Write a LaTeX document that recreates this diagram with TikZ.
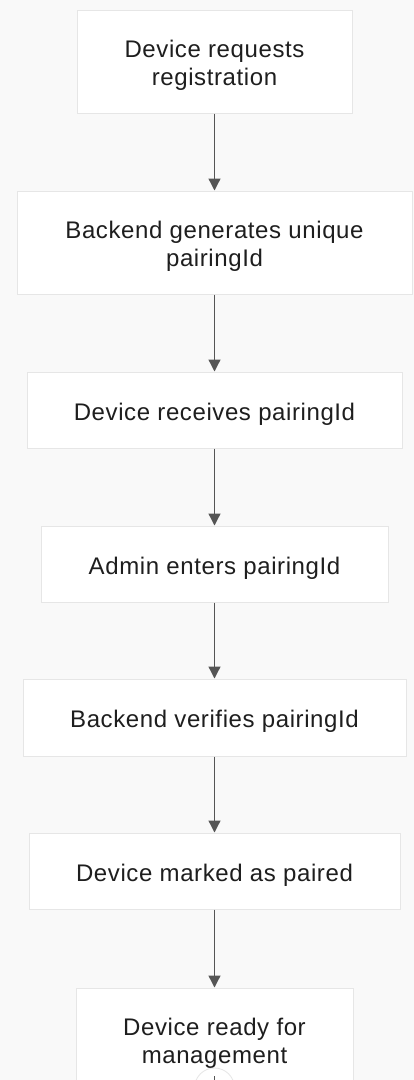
\documentclass[tikz,border=0pt]{standalone}
\usepackage{fontspec}
\setmainfont{Liberation Sans}[LetterSpace=2.5]
\usetikzlibrary{arrows.meta}
\definecolor{bgc}{HTML}{F9F9F9}
\definecolor{boxline}{HTML}{E6E6E6}
\definecolor{arrowc}{HTML}{555555}
\definecolor{txt}{HTML}{1E1E1E}
\tikzset{
  stepbox/.style={draw=boxline, line width=1pt, fill=white, rectangle, inner sep=0pt},
  lbl/.style={inner sep=0pt, align=center, text=txt, yshift=-4pt, font=\fontsize{24}{28}\selectfont},
  flow/.style={draw=arrowc, line width=1.3pt, -{Triangle[length=12pt,width=12pt]}},
}
\begin{document}
\begin{tikzpicture}[x=1pt,y=-1pt]
\useasboundingbox (0,0) rectangle (414,1080);
\clip (0,0) rectangle (414,1080);
\fill[bgc] (0,0) rectangle (414,1080);
\node[stepbox, minimum width=275pt, minimum height=103pt, label={[lbl]center:{Device requests\\registration}}] (n1) at (214.5,61.5) {};
\node[stepbox, minimum width=395pt, minimum height=103pt, label={[lbl]center:{Backend generates unique\\pairingId}}] (n2) at (214.5,242.5) {};
\node[stepbox, minimum width=375pt, minimum height=76pt, label={[lbl]center:{Device receives pairingId}}] (n3) at (214.5,410) {};
\node[stepbox, minimum width=347pt, minimum height=76pt, label={[lbl]center:{Admin enters pairingId}}] (n4) at (214.5,564) {};
\node[stepbox, minimum width=383pt, minimum height=77pt, label={[lbl]center:{Backend verifies pairingId}}] (n5) at (214.5,717.5) {};
\node[stepbox, minimum width=371pt, minimum height=76pt, label={[lbl]center:{Device marked as paired}}] (n6) at (214.5,871) {};
\node[stepbox, minimum width=277pt, minimum height=103pt, label={[lbl]center:{Device ready for\\management}}] (n7) at (214.5,1039.5) {};
\draw[flow] (n1.south) -- (n2.north);
\draw[flow] (n2.south) -- (n3.north);
\draw[flow] (n3.south) -- (n4.north);
\draw[flow] (n4.south) -- (n5.north);
\draw[flow] (n5.south) -- (n6.north);
\draw[flow] (n6.south) -- (n7.north);
\node[circle, draw=boxline, fill=white, line width=0.8pt, minimum size=40pt, inner sep=0pt] (zoombtn) at (214.5,1088) {};
\draw[arrowc, line width=1pt] (214.5,1076) -- (214.5,1100);
\end{tikzpicture}
\end{document}
